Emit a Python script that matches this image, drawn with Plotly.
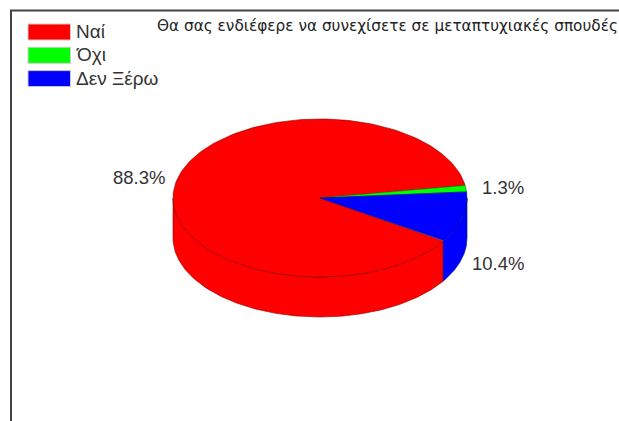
import numpy as np
import plotly.graph_objects as go

labels = ['Ναί', 'Όχι', 'Δεν Ξέρω']
values = [88.3, 1.3, 10.4]
colors = ['#ff0000', '#00ff00', '#0000ff']
edges = ['#8a0000', '#008a00', '#00008a']
title = 'Θα σας ενδιέφερε να συνεχίσετε σε μεταπτυχιακές σπουδές'

# pie geometry, in page pixels
cx, cy = 320, 198
rx, ry = 147, 79
depth = 40
start = 327  # slices run clockwise from here


def rim(a0, a1):
    t = np.radians(np.linspace(a0, a1, 200))
    return cx + rx * np.cos(t), cy - ry * np.sin(t)


fig = go.Figure()

# side wall first, only the front half of the rim shows
a = start
for value, color, edge in zip(values, colors, edges):
    a_end = a - value * 3.6
    # a slice can sit either side of 0 degrees, so test both turns
    for shift in (0, 360):
        lo, hi = max(a_end + shift, 180), min(a + shift, 360)
        if hi > lo:
            x, y = rim(lo, hi)
            fig.add_trace(go.Scatter(
                x=np.r_[x, x[::-1], x[0]], y=np.r_[y, y[::-1] + depth, y[0]],
                mode='lines', fill='toself', fillcolor=color,
                line=dict(color=edge, width=0.6), hoverinfo='skip',
            ))
    a = a_end

# top face
a = start
for label, value, color, edge in zip(labels, values, colors, edges):
    a_end = a - value * 3.6
    x, y = rim(a_end, a)
    fig.add_trace(go.Scatter(
        x=np.r_[cx, x, cx], y=np.r_[cy, y, cy],
        mode='lines', fill='toself', fillcolor=color,
        line=dict(color=edge, width=0.6), name=label, hoverinfo='name',
    ))
    a = a_end

# value labels
label_pos = [(139, 177), (503, 187), (498, 263)]
for value, (px, py) in zip(values, label_pos):
    fig.add_annotation(x=px, y=py, text=f'{value}%', showarrow=False,
                       font=dict(size=18.5, color='#333333'))

# legend, drawn by hand because the swatches are wide blocks
for i, (label, color) in enumerate(zip(labels, colors)):
    top = 24 + i * 23.3
    fig.add_shape(type='rect', x0=28, x1=70.5, y0=top, y1=top + 16,
                  fillcolor=color, line=dict(color='#cccccc', width=1))
    fig.add_annotation(x=74, y=top + 7.5, text=label, showarrow=False, xanchor='left',
                       font=dict(size=19, color='#333333'))

fig.add_annotation(x=155, y=26, text=title, showarrow=False, xanchor='left',
                   font=dict(size=15.3, color='#222222', family='DejaVu Sans'))

# frame runs off the right and bottom of the page
fig.add_shape(type='rect', x0=11, x1=640, y0=10.5, y1=440,
              line=dict(color='#444444', width=2))

fig.update_layout(
    width=619, height=421,
    margin=dict(l=0, r=0, t=0, b=0),
    showlegend=False,
    paper_bgcolor='white', plot_bgcolor='white',
    font=dict(family='Liberation Sans'),
    xaxis=dict(range=[0, 619], visible=False),
    yaxis=dict(range=[421, 0], visible=False),
)

fig.write_html("out.html", config=dict(displayModeBar=False),
               post_script="document.body.style.margin='0';")
